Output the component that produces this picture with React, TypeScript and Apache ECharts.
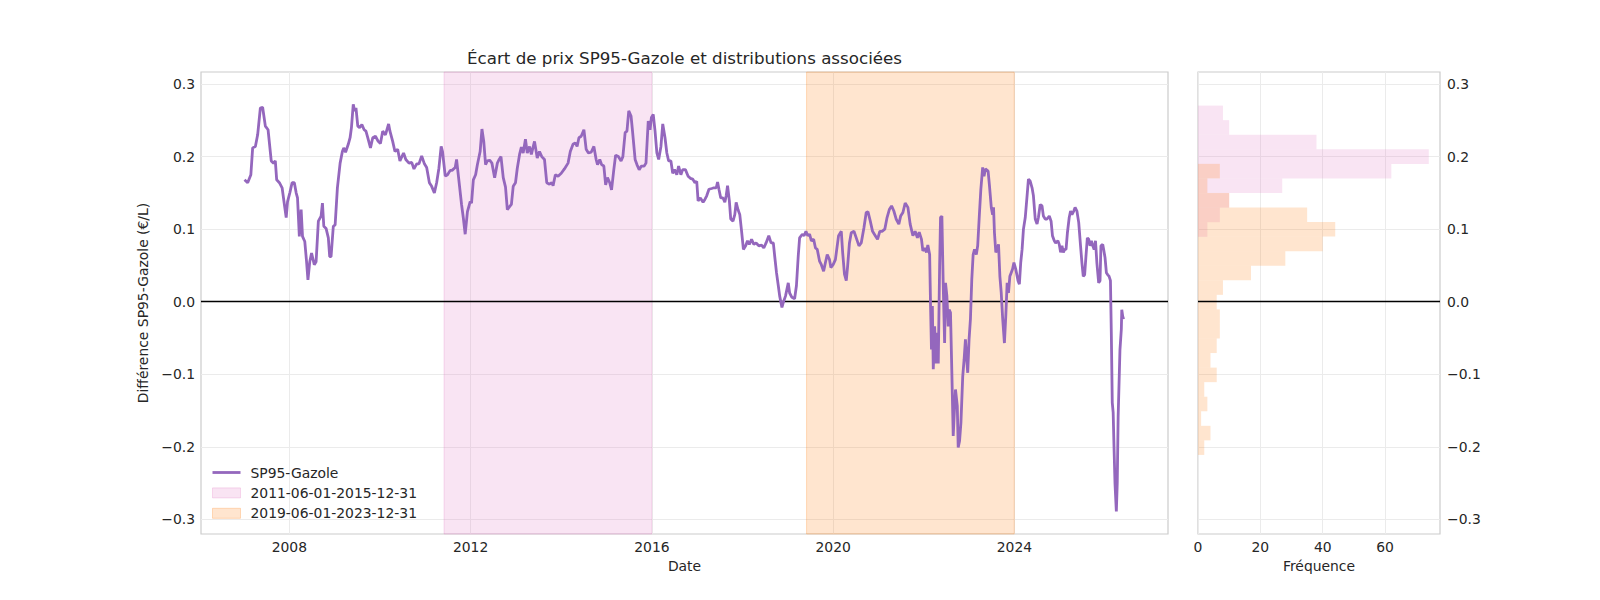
import React, { useEffect, useRef } from "react";
import * as echarts from "echarts";

// Weekly SP95 minus Gazole price spread (€/L), dated in decimal years
const spread: [number, number][] = [
  [2007.01, 0.168], [2007.08, 0.164], [2007.15, 0.175], [2007.19, 0.212], [2007.25, 0.214], [2007.30, 0.230],
  [2007.36, 0.267], [2007.41, 0.268], [2007.47, 0.242], [2007.53, 0.237], [2007.60, 0.194], [2007.65, 0.191],
  [2007.69, 0.194], [2007.72, 0.168], [2007.78, 0.164], [2007.84, 0.157], [2007.89, 0.134], [2007.93, 0.116],
  [2007.96, 0.138], [2008.01, 0.150], [2008.06, 0.164], [2008.11, 0.164], [2008.15, 0.150], [2008.18, 0.143],
  [2008.22, 0.090], [2008.26, 0.127], [2008.29, 0.090], [2008.34, 0.083], [2008.38, 0.055], [2008.41, 0.030],
  [2008.45, 0.055], [2008.49, 0.067], [2008.55, 0.051], [2008.59, 0.055], [2008.64, 0.111], [2008.70, 0.118],
  [2008.73, 0.136], [2008.76, 0.104], [2008.81, 0.101], [2008.86, 0.088], [2008.89, 0.062], [2008.92, 0.062],
  [2008.97, 0.104], [2009.01, 0.106], [2009.06, 0.157], [2009.12, 0.191], [2009.17, 0.207], [2009.20, 0.212],
  [2009.24, 0.206], [2009.30, 0.217], [2009.34, 0.226], [2009.37, 0.240], [2009.41, 0.272], [2009.44, 0.263],
  [2009.47, 0.267], [2009.51, 0.242], [2009.55, 0.240], [2009.60, 0.244], [2009.65, 0.237], [2009.69, 0.235],
  [2009.73, 0.226], [2009.79, 0.212], [2009.84, 0.226], [2009.90, 0.228], [2009.96, 0.221], [2010.01, 0.218],
  [2010.06, 0.235], [2010.12, 0.230], [2010.19, 0.245], [2010.22, 0.235], [2010.28, 0.221], [2010.33, 0.207],
  [2010.39, 0.210], [2010.44, 0.194], [2010.52, 0.205], [2010.57, 0.196], [2010.64, 0.191], [2010.70, 0.192],
  [2010.75, 0.183], [2010.81, 0.190], [2010.86, 0.190], [2010.92, 0.201], [2010.98, 0.190], [2011.03, 0.185],
  [2011.09, 0.164], [2011.14, 0.159], [2011.20, 0.150], [2011.25, 0.164], [2011.30, 0.184], [2011.35, 0.214],
  [2011.38, 0.207], [2011.44, 0.173], [2011.49, 0.175], [2011.55, 0.181], [2011.59, 0.181], [2011.66, 0.185],
  [2011.69, 0.196], [2011.74, 0.168], [2011.80, 0.134], [2011.84, 0.115], [2011.88, 0.093], [2011.93, 0.124],
  [2011.99, 0.138], [2012.02, 0.136], [2012.06, 0.168], [2012.11, 0.175], [2012.15, 0.189], [2012.21, 0.207],
  [2012.25, 0.238], [2012.29, 0.221], [2012.33, 0.189], [2012.37, 0.194], [2012.42, 0.195], [2012.47, 0.191],
  [2012.53, 0.171], [2012.59, 0.191], [2012.63, 0.196], [2012.67, 0.200], [2012.72, 0.171], [2012.77, 0.158],
  [2012.81, 0.127], [2012.86, 0.131], [2012.90, 0.134], [2012.94, 0.159], [2012.99, 0.164], [2013.03, 0.184],
  [2013.08, 0.203], [2013.12, 0.213], [2013.16, 0.205], [2013.21, 0.224], [2013.25, 0.205], [2013.30, 0.214],
  [2013.34, 0.203], [2013.41, 0.221], [2013.47, 0.198], [2013.52, 0.207], [2013.57, 0.200], [2013.63, 0.196],
  [2013.68, 0.164], [2013.74, 0.162], [2013.79, 0.164], [2013.82, 0.160], [2013.87, 0.175], [2013.93, 0.173],
  [2014.00, 0.177], [2014.07, 0.183], [2014.15, 0.191], [2014.20, 0.207], [2014.26, 0.217], [2014.31, 0.219],
  [2014.35, 0.214], [2014.39, 0.226], [2014.44, 0.228], [2014.50, 0.237], [2014.55, 0.210], [2014.60, 0.205],
  [2014.66, 0.206], [2014.72, 0.214], [2014.77, 0.196], [2014.80, 0.189], [2014.85, 0.196], [2014.89, 0.189],
  [2014.94, 0.187], [2014.98, 0.161], [2015.02, 0.171], [2015.07, 0.164], [2015.11, 0.154], [2015.16, 0.182],
  [2015.20, 0.202], [2015.26, 0.200], [2015.32, 0.194], [2015.36, 0.200], [2015.41, 0.233], [2015.45, 0.235],
  [2015.49, 0.263], [2015.54, 0.256], [2015.57, 0.237], [2015.63, 0.196], [2015.67, 0.189], [2015.72, 0.182],
  [2015.77, 0.187], [2015.83, 0.187], [2015.87, 0.191], [2015.92, 0.249], [2015.96, 0.237], [2015.99, 0.254],
  [2016.03, 0.258], [2016.07, 0.235], [2016.11, 0.205], [2016.15, 0.196], [2016.20, 0.214], [2016.24, 0.245],
  [2016.29, 0.226], [2016.33, 0.205], [2016.37, 0.194], [2016.42, 0.194], [2016.46, 0.177], [2016.50, 0.182],
  [2016.55, 0.175], [2016.59, 0.187], [2016.64, 0.175], [2016.68, 0.182], [2016.74, 0.182], [2016.80, 0.173],
  [2016.85, 0.170], [2016.90, 0.169], [2016.95, 0.164], [2016.99, 0.166], [2017.02, 0.139], [2017.07, 0.143],
  [2017.13, 0.137], [2017.17, 0.141], [2017.21, 0.146], [2017.26, 0.155], [2017.32, 0.156], [2017.37, 0.157],
  [2017.42, 0.157], [2017.45, 0.165], [2017.48, 0.155], [2017.52, 0.143], [2017.57, 0.143], [2017.61, 0.137],
  [2017.64, 0.146], [2017.67, 0.160], [2017.71, 0.139], [2017.74, 0.114], [2017.79, 0.111], [2017.83, 0.120],
  [2017.86, 0.137], [2017.90, 0.127], [2017.94, 0.120], [2017.98, 0.097], [2018.02, 0.072], [2018.07, 0.077],
  [2018.11, 0.084], [2018.15, 0.079], [2018.20, 0.086], [2018.25, 0.079], [2018.30, 0.081], [2018.36, 0.077],
  [2018.42, 0.078], [2018.47, 0.074], [2018.52, 0.081], [2018.58, 0.091], [2018.63, 0.081], [2018.68, 0.081],
  [2018.71, 0.063], [2018.75, 0.040], [2018.79, 0.022], [2018.82, 0.008], [2018.87, -0.008], [2018.90, -0.001],
  [2018.95, 0.008], [2019.01, 0.026], [2019.04, 0.012], [2019.09, 0.006], [2019.15, 0.004], [2019.19, 0.022],
  [2019.23, 0.063], [2019.26, 0.088], [2019.32, 0.093], [2019.36, 0.091], [2019.40, 0.097], [2019.44, 0.091],
  [2019.48, 0.093], [2019.52, 0.084], [2019.57, 0.086], [2019.61, 0.074], [2019.65, 0.072], [2019.70, 0.056],
  [2019.74, 0.051], [2019.79, 0.042], [2019.83, 0.054], [2019.87, 0.065], [2019.92, 0.058], [2019.95, 0.047],
  [2020.00, 0.051], [2020.05, 0.058], [2020.12, 0.091], [2020.18, 0.097], [2020.21, 0.068], [2020.25, 0.038],
  [2020.29, 0.029], [2020.32, 0.049], [2020.36, 0.081], [2020.40, 0.095], [2020.46, 0.097], [2020.51, 0.088],
  [2020.57, 0.077], [2020.62, 0.081], [2020.68, 0.102], [2020.73, 0.123], [2020.77, 0.124], [2020.82, 0.111],
  [2020.87, 0.097], [2020.93, 0.091], [2020.98, 0.086], [2021.03, 0.097], [2021.08, 0.097], [2021.14, 0.100],
  [2021.19, 0.116], [2021.24, 0.127], [2021.29, 0.132], [2021.34, 0.125], [2021.39, 0.114], [2021.45, 0.107],
  [2021.49, 0.118], [2021.54, 0.123], [2021.59, 0.136], [2021.65, 0.130], [2021.70, 0.107], [2021.76, 0.091],
  [2021.81, 0.097], [2021.86, 0.088], [2021.90, 0.096], [2021.95, 0.086], [2021.98, 0.070], [2022.02, 0.074],
  [2022.06, 0.068], [2022.09, 0.078], [2022.13, 0.065], [2022.15, -0.006], [2022.17, -0.066], [2022.19, -0.006],
  [2022.21, -0.093], [2022.24, -0.034], [2022.27, -0.085], [2022.30, -0.043], [2022.32, -0.085], [2022.35, 0.049],
  [2022.37, 0.116], [2022.40, 0.118], [2022.43, 0.022], [2022.46, -0.057], [2022.48, 0.026], [2022.51, 0.008],
  [2022.54, -0.034], [2022.56, -0.011], [2022.59, -0.015], [2022.62, -0.098], [2022.65, -0.185], [2022.67, -0.158],
  [2022.70, -0.121], [2022.74, -0.144], [2022.76, -0.201], [2022.79, -0.192], [2022.82, -0.167], [2022.86, -0.103],
  [2022.89, -0.080], [2022.92, -0.052], [2022.94, -0.073], [2022.97, -0.098], [2023.00, -0.052], [2023.03, -0.024],
  [2023.06, 0.031], [2023.09, 0.065], [2023.12, 0.072], [2023.16, 0.065], [2023.19, 0.077], [2023.23, 0.123],
  [2023.26, 0.155], [2023.30, 0.185], [2023.33, 0.173], [2023.36, 0.183], [2023.42, 0.180], [2023.45, 0.160],
  [2023.49, 0.130], [2023.52, 0.120], [2023.54, 0.130], [2023.56, 0.095], [2023.59, 0.068], [2023.62, 0.072],
  [2023.65, 0.079], [2023.68, 0.035], [2023.71, 0.012], [2023.74, -0.022], [2023.78, -0.057], [2023.81, -0.020],
  [2023.84, 0.026], [2023.87, 0.012], [2023.90, 0.035], [2023.93, 0.040], [2023.96, 0.045], [2023.99, 0.054],
  [2024.03, 0.045], [2024.08, 0.029], [2024.11, 0.024], [2024.14, 0.054], [2024.17, 0.072], [2024.20, 0.100],
  [2024.24, 0.116], [2024.28, 0.146], [2024.31, 0.169], [2024.35, 0.166], [2024.39, 0.157], [2024.42, 0.146],
  [2024.46, 0.114], [2024.50, 0.107], [2024.53, 0.116], [2024.57, 0.134], [2024.61, 0.132], [2024.64, 0.118],
  [2024.68, 0.114], [2024.72, 0.114], [2024.77, 0.118], [2024.81, 0.111], [2024.84, 0.091], [2024.88, 0.084],
  [2024.91, 0.081], [2024.96, 0.084], [2024.99, 0.079], [2025.02, 0.068], [2025.05, 0.077], [2025.08, 0.068],
  [2025.11, 0.072], [2025.14, 0.072], [2025.17, 0.095], [2025.21, 0.116], [2025.24, 0.125], [2025.27, 0.120],
  [2025.31, 0.125], [2025.34, 0.130], [2025.38, 0.125], [2025.42, 0.109], [2025.46, 0.077], [2025.49, 0.054],
  [2025.52, 0.035], [2025.55, 0.037], [2025.58, 0.063], [2025.61, 0.088], [2025.64, 0.086], [2025.67, 0.077],
  [2025.70, 0.084], [2025.73, 0.077], [2025.76, 0.072], [2025.79, 0.084], [2025.82, 0.054], [2025.86, 0.026],
  [2025.89, 0.029], [2025.91, 0.077], [2025.95, 0.079], [2025.97, 0.072], [2026.00, 0.061], [2026.03, 0.040],
  [2026.06, 0.037], [2026.09, 0.035], [2026.12, 0.029], [2026.14, -0.047], [2026.16, -0.139], [2026.18, -0.153],
  [2026.20, -0.204], [2026.22, -0.250], [2026.25, -0.289], [2026.27, -0.250], [2026.29, -0.158], [2026.31, -0.112],
  [2026.33, -0.066], [2026.36, -0.038], [2026.37, -0.011], [2026.39, -0.020], [2026.41, -0.024],
];

const yearTicks = [2008, 2012, 2016, 2020, 2024];
const spreadTicks = [-0.3, -0.2, -0.1, 0, 0.1, 0.2, 0.3];
const freqTicks = [0, 20, 40, 60];

// Highlighted periods (decimal-year bounds)
const periodA = { label: "2011-06-01-2015-12-31", start: 2011.414, end: 2015.997 };
const periodB = { label: "2019-06-01-2023-12-31", start: 2019.414, end: 2023.997 };

// Weekly spread histograms per period: lowest bin edge, bin width, counts from the bottom bin upward
const histA = { low: 0.0894, width: 0.0201, counts: [3, 7, 10, 27, 62, 74, 38, 10, 8] };
const histB = {
  low: -0.2112,
  width: 0.02006,
  counts: [2, 4, 1, 3, 2, 6, 4, 6, 7, 7, 6, 8, 17, 28, 40, 44, 35, 10, 3, 7],
};

const PURPLE = "#9467bd";
const PINK_FILL = "rgba(227,119,194,0.2)";
const PINK_EDGE = "rgba(227,119,194,0.25)";
const ORANGE_FILL = "rgba(255,127,14,0.2)";
const ORANGE_EDGE = "rgba(255,127,14,0.25)";
const TEXT = "#262626";
const GRID_LINE = "#ebebeb";
const FRAME = "#cccccc";
const FONT = "DejaVu Sans";
const FS = 13.9;
const LINE_W = 2.8;

// Flat bar used as the legend key of the spread line
const LINE_ICON = `path://M0,0 L28,0 L28,${LINE_W} L0,${LINE_W} Z`;

const fmtSpread = (v: number) => (v < -1e-9 ? "\u2212" : "") + Math.abs(v).toFixed(1);

function histSeries(h: { low: number; width: number; counts: number[] }, fill: string, name: string, extra: any = {}) {
  return {
    type: "custom",
    name,
    xAxisIndex: 1,
    yAxisIndex: 1,
    silent: true,
    data: h.counts.map((c, i) => [c, h.low + i * h.width, h.low + (i + 1) * h.width]),
    encode: { x: 0, y: [1, 2] },
    renderItem: (_p: any, api: any) => {
      const count = api.value(0);
      const lo = api.value(1);
      const hi = api.value(2);
      const a = api.coord([0, hi]);
      const b = api.coord([count, lo]);
      return {
        type: "rect",
        shape: { x: a[0], y: a[1], width: b[0] - a[0], height: b[1] - a[1] },
        style: { fill },
      };
    },
    ...extra,
  };
}

export default function App() {
  const ref = useRef<HTMLDivElement>(null);

  useEffect(() => {
    if (!ref.current) return;
    const chart = echarts.init(ref.current, undefined, { renderer: "svg" });
    const labelStyle = { color: TEXT, fontSize: FS, fontFamily: FONT };
    const zeroLine = {
      silent: true,
      symbol: ["none", "none"],
      label: { show: false },
      lineStyle: { color: "#000000", width: 1.3, type: "solid" },
      data: [{ yAxis: 0 }],
    };

    chart.setOption({
      animation: false,
      backgroundColor: "#ffffff",
      textStyle: { fontFamily: FONT },
      graphic: [
        {
          type: "text",
          x: 684.5,
          y: 58,
          style: {
            text: "Écart de prix SP95-Gazole et distributions associées",
            fill: TEXT,
            fontSize: 16.7,
            fontFamily: FONT,
            align: "center",
            verticalAlign: "middle",
            textAlign: "center",
            textVerticalAlign: "middle",
          },
        },
      ],
      grid: [
        { left: 201, top: 72, width: 967, height: 462, show: true, borderColor: FRAME, borderWidth: 1.2, backgroundColor: "#ffffff" },
        { left: 1198, top: 72, width: 242, height: 462, show: true, borderColor: FRAME, borderWidth: 1.2, backgroundColor: "#ffffff" },
      ],
      legend: {
        orient: "vertical",
        left: 212,
        top: 465.5,
        padding: 0,
        itemGap: 6.4,
        itemWidth: 28,
        itemHeight: 10,
        symbolKeepAspect: true,
        selectedMode: false,
        textStyle: { color: TEXT, fontSize: FS, fontFamily: FONT, padding: [0, 0, 0, 5] },
        data: [
          { name: "SP95-Gazole", icon: LINE_ICON, itemStyle: { color: PURPLE } },
          { name: periodA.label, icon: "rect", itemStyle: { color: PINK_FILL, borderColor: PINK_EDGE, borderWidth: 1 } },
          { name: periodB.label, icon: "rect", itemStyle: { color: ORANGE_FILL, borderColor: ORANGE_EDGE, borderWidth: 1 } },
        ],
      },
      xAxis: [
        {
          type: "value",
          gridIndex: 0,
          min: 2006.05,
          max: 2027.39,
          axisLine: { show: false },
          axisTick: { show: false, customValues: yearTicks },
          axisLabel: { ...labelStyle, margin: 6, customValues: yearTicks, formatter: (v: number) => String(Math.round(v)) },
          splitLine: { show: true, lineStyle: { color: GRID_LINE, width: 1 } },
          name: "Date",
          nameLocation: "middle",
          nameGap: 23,
          nameTextStyle: labelStyle,
        },
        {
          type: "value",
          gridIndex: 1,
          min: 0,
          max: 77.6,
          axisLine: { show: false },
          axisTick: { show: false, customValues: freqTicks },
          axisLabel: { ...labelStyle, margin: 6, customValues: freqTicks, formatter: (v: number) => String(Math.round(v)) },
          splitLine: { show: true, lineStyle: { color: GRID_LINE, width: 1 } },
          name: "Fréquence",
          nameLocation: "middle",
          nameGap: 23,
          nameTextStyle: labelStyle,
        },
      ],
      yAxis: [
        {
          type: "value",
          gridIndex: 0,
          min: -0.3202,
          max: 0.3166,
          axisLine: { show: false },
          axisTick: { show: false, customValues: spreadTicks },
          axisLabel: { ...labelStyle, margin: 6, customValues: spreadTicks, formatter: fmtSpread },
          splitLine: { show: true, lineStyle: { color: GRID_LINE, width: 1 } },
          name: "Différence SP95-Gazole (€/L)",
          nameLocation: "middle",
          nameRotate: 90,
          nameGap: 47,
          nameTextStyle: labelStyle,
        },
        {
          type: "value",
          gridIndex: 1,
          position: "right",
          min: -0.3202,
          max: 0.3166,
          axisLine: { show: false },
          axisTick: { show: false, customValues: spreadTicks },
          axisLabel: { ...labelStyle, margin: 7, customValues: spreadTicks, formatter: fmtSpread },
          splitLine: { show: true, lineStyle: { color: GRID_LINE, width: 1 } },
        },
      ],
      series: [
        {
          type: "line",
          name: periodA.label,
          xAxisIndex: 0,
          yAxisIndex: 0,
          data: [],
          color: PINK_FILL,
          z: 1,
          markArea: {
            silent: true,
            itemStyle: { color: PINK_FILL, borderColor: PINK_EDGE, borderWidth: 1 },
            data: [[{ xAxis: periodA.start }, { xAxis: periodA.end }]],
          },
        },
        {
          type: "line",
          name: periodB.label,
          xAxisIndex: 0,
          yAxisIndex: 0,
          data: [],
          color: ORANGE_FILL,
          z: 1,
          markArea: {
            silent: true,
            itemStyle: { color: ORANGE_FILL, borderColor: ORANGE_EDGE, borderWidth: 1 },
            data: [[{ xAxis: periodB.start }, { xAxis: periodB.end }]],
          },
        },
        {
          type: "line",
          name: "SP95-Gazole",
          xAxisIndex: 0,
          yAxisIndex: 0,
          data: spread,
          symbol: "none",
          showSymbol: false,
          color: PURPLE,
          lineStyle: { color: PURPLE, width: LINE_W },
          z: 5,
          markLine: zeroLine,
        },
        histSeries(histA, PINK_FILL, "histA"),
        histSeries(histB, ORANGE_FILL, "histB", { markLine: zeroLine }),
      ],
    });

    return () => chart.dispose();
  }, []);

  return <div ref={ref} style={{ position: "absolute", left: 0, top: 0, width: 1600, height: 600 }} />;
}
